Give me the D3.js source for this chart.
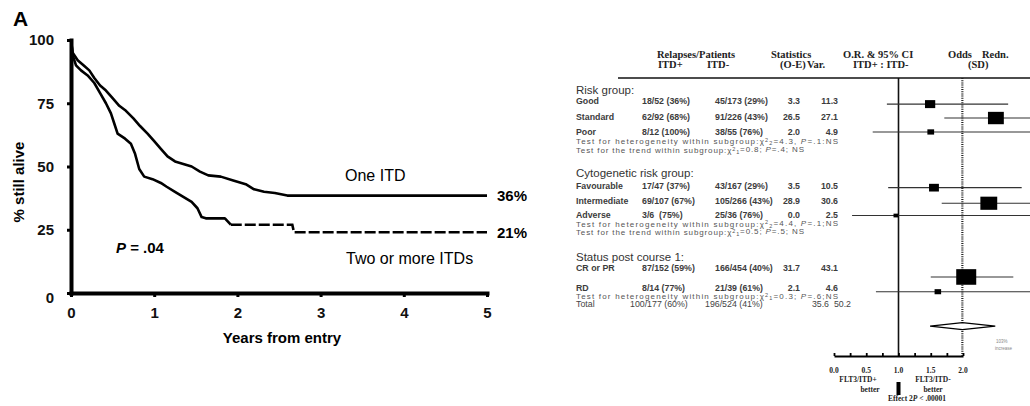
<!DOCTYPE html>
<html lang="en">
<head>
<meta charset="UTF-8" />
<title>FLT3/ITD: survival and odds of relapse</title>
<script src="https://d3js.org/d3.v7.min.js"></script>
<style>
  body { margin: 0; background: #fff; }
  svg { display: block; font-family: "Liberation Sans", Arial, sans-serif; }
  .serif { font-family: "Liberation Serif", "Times New Roman", serif; font-weight: bold; fill: #222; }
</style>
</head>
<body>
<script>
// ---- panel A: survival (years, % still alive)
const oneYears = [0, 0.02, 0.08, 0.15, 0.22, 0.28, 0.35, 0.42, 0.5, 0.58, 0.66, 0.75, 0.83, 0.92, 1.0, 1.08, 1.16, 1.25, 1.35, 1.45, 1.55, 1.65, 1.8, 1.95, 2.1, 2.2, 2.32, 2.45, 2.6, 5.0];
const oneAlive = [100, 95, 92, 90, 88, 85, 82, 80, 77, 74, 72, 69, 66, 63, 60, 57, 54, 52, 51, 50, 48, 46.5, 46, 44.5, 43, 41, 40, 39.5, 38.5, 38.5];
const twoYears = [0, 0.02, 0.06, 0.12, 0.2, 0.28, 0.35, 0.42, 0.48, 0.52, 0.56, 0.65, 0.72, 0.77, 0.82, 0.88, 0.98, 1.08, 1.15, 1.25, 1.35, 1.45, 1.52, 1.57, 1.62, 1.85, 1.92, 2.66, 2.68, 5.0];
const twoAlive = [100, 94, 90, 88, 86, 83, 79, 75, 71, 67, 63, 61, 59, 55, 49, 46, 45, 43.5, 42, 40, 38, 36, 33.5, 30, 29.5, 29.5, 27, 27, 24, 24];
const dashFrom = 1.92;               // two-ITD curve is dashed after this
const yearTicks = [0, 1, 2, 3, 4, 5];
const aliveTicks = [0, 25, 50, 75, 100];

// ---- forest plot table
const groups = ["Risk group:", "Cytogenetic risk group:", "Status post course 1:"];
const subgroups = ["Good", "Standard", "Poor", "Favourable", "Intermediate", "Adverse", "CR or PR", "RD"];
const itdPos = ["18/52 (36%)", "62/92 (68%)", "8/12 (100%)", "17/47 (37%)", "69/107 (67%)", "3/6  (75%)", "87/152 (59%)", "8/14 (77%)"];
const itdNeg = ["45/173 (29%)", "91/226 (43%)", "38/55 (76%)", "43/167 (29%)", "105/266 (43%)", "25/36 (76%)", "166/454 (40%)", "21/39 (61%)"];
const oMinusE = ["3.3", "26.5", "2.0", "3.5", "28.9", "0.0", "31.7", "2.1"];
const variance = [11.3, 27.1, 4.9, 10.5, 30.6, 2.5, 43.1, 4.6];
const orEst = [1.49, 2.51, 1.50, 1.55, 2.40, 0.96, 2.05, 1.61];
const ciLow = [0.82, 1.71, 0.60, 0.84, 1.67, 0.28, 1.50, 0.65];
const ciHigh = [2.70, 3.80, 3.80, 2.91, 3.80, 3.80, 2.78, 3.80];
const hetTests = [["=4.3, ", "=.1:NS", "2"], ["=4.4, ", "=.1;NS", "2"], ["=0.3; ", "=.6;NS", "1"]];
const trendTests = [["=0.8; ", "=.4; NS"], ["=0.5; ", "=.5; NS"]];
const totalRow = ["Total", "100/177 (60%)", "196/524 (41%)", "35.6", "50.2"];
const overall = [1.99, 1.49, 2.50];   // estimate, low, high
const orTicks = d3.range(0, 2.01, 0.25);
const orLabels = ["0.0", "0.5", "1.0", "1.5", "2.0"];

// line positions in the table (units of one text line)
const groupSlots = [-0.15, 10.0, 20.3];
const rowSlots = [1.15, 3.2, 5.05, 11.6, 13.4, 15.15, 21.6, 24.0];
const markSlots = [1.6, 3.3, 5.0, 11.8, 13.7, 15.2, 22.7, 24.5];
const hetSlots = [6.15, 16.2, 25.05];
const trendSlots = [7.2, 17.2];

const svg = d3.select("body").append("svg")
  .attr("width", 1030).attr("height", 406);

// ================= panel A =================
const x = d3.scaleLinear().domain([0, 5]).range([71, 487]);
const y = d3.scaleLinear().domain([0, 100]).range([293, 40]);

svg.append("text").attr("x", 13).attr("y", 26)
  .attr("font-size", 21).attr("font-weight", "bold").text("A");

const yAx = svg.append("g").attr("transform", "translate(71,0)")
  .call(d3.axisLeft(y).tickValues(aliveTicks).tickSizeInner(4).tickSizeOuter(0).tickPadding(13));
const xAx = svg.append("g").attr("transform", "translate(0,293)")
  .call(d3.axisBottom(x).tickValues(yearTicks).tickFormat(d3.format("d"))
    .tickSizeInner(4).tickSizeOuter(0).tickPadding(10));
[yAx, xAx].forEach(g => {
  g.select(".domain").attr("stroke-width", 4).attr("stroke-linecap", "square");
  g.selectAll(".tick line").attr("stroke-width", 3);
  g.selectAll(".tick text").attr("font-size", 15).attr("font-weight", "bold")
    .attr("font-family", "Liberation Sans, Arial, sans-serif").attr("fill", "#111");
});
yAx.selectAll(".tick text").filter(d => d === 0).attr("dy", "0.6em");

svg.append("text")
  .attr("transform", "translate(24,182) rotate(-90)")
  .attr("text-anchor", "middle").attr("font-size", 15).attr("font-weight", "bold")
  .text("% still alive");
svg.append("text").attr("x", 282).attr("y", 343)
  .attr("text-anchor", "middle").attr("font-size", 15).attr("font-weight", "bold")
  .text("Years from entry");

const km = d3.line().x(d => x(d[0])).y(d => y(d[1]));
const onePts = oneYears.map((t, i) => [t, oneAlive[i]]);
const twoPts = twoYears.map((t, i) => [t, twoAlive[i]]);
const twoSolid = twoPts.filter(d => d[0] <= dashFrom);
const twoDash = twoPts.filter(d => d[0] >= dashFrom);

svg.append("path").attr("d", km(onePts)).attr("fill", "none")
  .attr("stroke", "#000").attr("stroke-width", 2.6).attr("stroke-linejoin", "round");
svg.append("path").attr("d", km(twoSolid)).attr("fill", "none")
  .attr("stroke", "#000").attr("stroke-width", 2.6).attr("stroke-linejoin", "round");
svg.append("path").attr("d", km(twoDash)).attr("fill", "none")
  .attr("stroke", "#000").attr("stroke-width", 2.6).attr("stroke-dasharray", "11,3");

svg.append("text").attr("x", 345).attr("y", 181).attr("font-size", 16).text("One ITD");
svg.append("text").attr("x", 346).attr("y", 264).attr("font-size", 16).text("Two or more ITDs");
svg.append("text").attr("x", 497).attr("y", y(oneAlive[oneAlive.length - 1])).attr("dy", "0.35em")
  .attr("font-size", 15).attr("font-weight", "bold").text("36%");
svg.append("text").attr("x", 497).attr("y", y(twoAlive[twoAlive.length - 1])).attr("dy", "0.35em")
  .attr("font-size", 15).attr("font-weight", "bold").text("21%");
const pTxt = svg.append("text").attr("x", 116).attr("y", 253)
  .attr("font-size", 15).attr("font-weight", "bold");
pTxt.append("tspan").attr("font-style", "italic").text("P");
pTxt.append("tspan").text(" = .04");

// ================= forest plot =================
const or = d3.scaleLinear().domain([0, 2]).range([834, 963]);
const slot = d3.scaleLinear().domain([0, 26]).range([91, 304]);
const side = d3.scaleSqrt().domain([0, 43.1]).range([0, 20]);
const axisY = 356, topY = 78;

// headers
const hdr = svg.append("g").attr("class", "serif").attr("font-size", 10.5);
[["Relapses/Patients", 657, 58], ["Statistics", 771, 58], ["O.R. & 95% CI", 843, 58], ["Odds", 948, 58], ["Redn.", 982, 58],
 ["ITD+", 658, 68], ["ITD-", 707, 68], ["(O-E)", 780, 68], ["Var.", 807, 68], ["ITD+ : ITD-", 853, 68], ["(SD)", 968, 68]]
  .forEach(h => hdr.append("text").attr("x", h[1]).attr("y", h[2]).text(h[0]));

svg.append("line").attr("x1", 618).attr("x2", 1030).attr("y1", topY).attr("y2", topY)
  .attr("stroke", "#111").attr("stroke-width", 1.6);

// group headings
svg.append("g").selectAll("text").data(groups).join("text")
  .attr("x", 576).attr("y", (d, i) => slot(groupSlots[i])).attr("dy", "0.35em")
  .attr("font-size", 11.5).attr("fill", "#333").text(d => d);

// subgroup rows
const rows = svg.append("g").attr("font-size", 8.8).attr("font-weight", "bold").attr("fill", "#3c3c3c");
subgroups.forEach((s, i) => {
  const yy = slot(rowSlots[i]);
  rows.append("text").attr("x", 576).attr("y", yy).attr("dy", "0.35em").text(s);
  rows.append("text").attr("x", 642).attr("y", yy).attr("dy", "0.35em").attr("xml:space", "preserve").text(itdPos[i]);
  rows.append("text").attr("x", 715).attr("y", yy).attr("dy", "0.35em").text(itdNeg[i]);
  rows.append("text").attr("x", 800).attr("y", yy).attr("dy", "0.35em").attr("text-anchor", "end").text(oMinusE[i]);
  rows.append("text").attr("x", 838).attr("y", yy).attr("dy", "0.35em").attr("text-anchor", "end").text(variance[i].toFixed(1));
});

// tests
const tests = svg.append("g").attr("font-size", 8).attr("fill", "#555");
function testLine(yy, lead, stat, pval, df, len) {
  const t = tests.append("text").attr("x", 576).attr("y", yy).attr("dy", "0.35em")
    .attr("textLength", len).attr("lengthAdjust", "spacing");
  t.append("tspan").text(lead + "χ");
  t.append("tspan").attr("font-size", 5.5).attr("dy", "-0.4em").text("2");
  t.append("tspan").attr("font-size", 5.5).attr("dy", "0.6em").text(df);
  t.append("tspan").attr("dy", "-0.2em").text(stat);
  t.append("tspan").attr("font-style", "italic").text("P");
  t.append("tspan").text(pval);
}
hetTests.forEach((h, i) => testLine(slot(hetSlots[i]), "Test for heterogeneity within subgroup:", h[0], h[1], h[2], 262));
trendTests.forEach((h, i) => testLine(slot(trendSlots[i]), "Test for the trend within subgroup:", h[0], h[1], "1", 228));

// total row
const tot = svg.append("g").attr("font-size", 8.8).attr("fill", "#444");
const ty = slot(26);
tot.append("text").attr("x", 576).attr("y", ty).attr("dy", "0.35em").text(totalRow[0]);
tot.append("text").attr("x", 630).attr("y", ty).attr("dy", "0.35em").text(totalRow[1]);
tot.append("text").attr("x", 705).attr("y", ty).attr("dy", "0.35em").text(totalRow[2]);
tot.append("text").attr("x", 829).attr("y", ty).attr("dy", "0.35em").attr("text-anchor", "end").text(totalRow[3]);
tot.append("text").attr("x", 851).attr("y", ty).attr("dy", "0.35em").attr("text-anchor", "end").text(totalRow[4]);

// reference lines
svg.append("line").attr("x1", or(1)).attr("x2", or(1)).attr("y1", topY).attr("y2", axisY)
  .attr("stroke", "#111").attr("stroke-width", 1.6);
svg.append("line").attr("x1", or(overall[0])).attr("x2", or(overall[0])).attr("y1", topY).attr("y2", axisY)
  .attr("stroke", "#222").attr("stroke-width", 2.2).attr("stroke-dasharray", "1,1.2");

// CI lines and squares
const marks = svg.append("g");
subgroups.forEach((s, i) => {
  const yy = slot(markSlots[i]);
  marks.append("line").attr("x1", or(ciLow[i])).attr("x2", or(ciHigh[i]))
    .attr("y1", yy).attr("y2", yy).attr("stroke", "#333").attr("stroke-width", 1.1);
  const w = side(variance[i]), h = w * 0.78;
  marks.append("rect").attr("x", or(orEst[i]) - w / 2).attr("y", yy - h / 2)
    .attr("width", w).attr("height", h).attr("fill", "#000");
});

// overall diamond
const dy0 = slot(28.7);
svg.append("path")
  .attr("d", `M${or(overall[1])},${dy0}L${or(overall[0])},${dy0 - 3.5}L${or(overall[2])},${dy0}L${or(overall[0])},${dy0 + 3.5}Z`)
  .attr("fill", "#fff").attr("stroke", "#000").attr("stroke-width", 1.3);
svg.append("text").attr("x", 996).attr("y", 343).attr("font-size", 4.5).attr("fill", "#888").text("103%");
svg.append("text").attr("x", 995).attr("y", 350).attr("font-size", 4.5).attr("fill", "#888").text("increase");

// OR axis
const orAx = svg.append("g").attr("transform", `translate(0,${axisY})`)
  .call(d3.axisTop(or).tickValues(orTicks).tickSizeInner(3).tickSizeOuter(0).tickFormat(""));
orAx.select(".domain").attr("stroke-width", 2);
orAx.selectAll(".tick line").attr("stroke-width", 1.8);
svg.append("g").attr("class", "serif").attr("font-size", 7.5).selectAll("text")
  .data(orLabels).join("text")
  .attr("x", d => or(+d)).attr("y", 373).attr("text-anchor", "middle").text(d => d);

const foot = svg.append("g").attr("class", "serif").attr("font-size", 7.5).attr("text-anchor", "middle");
foot.append("text").attr("x", 858).attr("y", 382).text("FLT3/ITD+");
foot.append("text").attr("x", 870).attr("y", 392).text("better");
foot.append("text").attr("x", 933).attr("y", 382).text("FLT3/ITD-");
foot.append("text").attr("x", 933).attr("y", 392).text("better");
const eff = foot.append("text").attr("x", 917).attr("y", 401);
eff.append("tspan").text("Effect  2");
eff.append("tspan").attr("font-style", "italic").text("P");
eff.append("tspan").text(" < .00001");
svg.append("rect").attr("x", or(1) - 2).attr("y", 382).attr("width", 4).attr("height", 13).attr("fill", "#000");
</script>
</body>
</html>
